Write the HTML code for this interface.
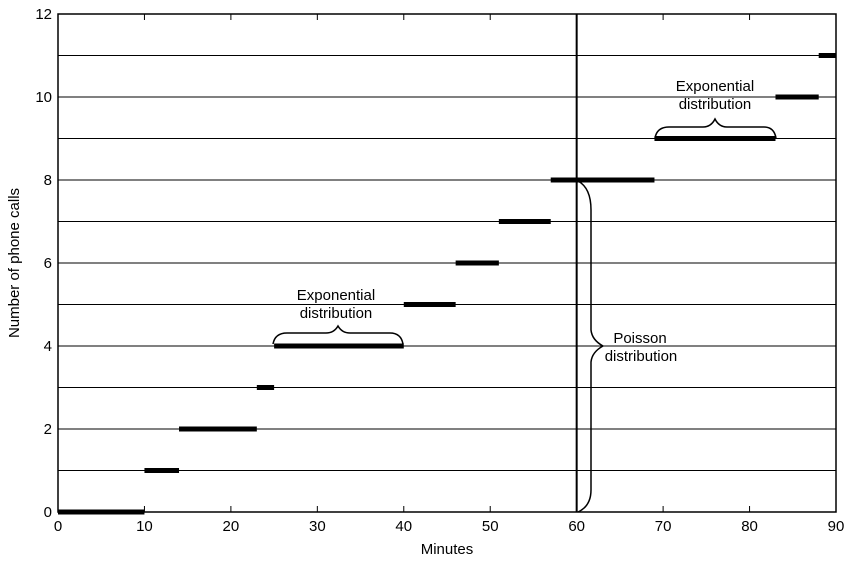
<!DOCTYPE html>
<html><head><meta charset="utf-8"><style>
body{margin:0;background:#fff;}
svg{display:block;font-family:"Liberation Sans",sans-serif;}
</style></head><body>
<svg id="chart" width="854" height="565" viewBox="0 0 854 565" xmlns="http://www.w3.org/2000/svg">
<g id="grid"></g>
<g id="marks"></g>
<g id="axes"></g>
<g fill="none" stroke="#000" stroke-width="1.5">
<path d="M273,344 Q275,333 287,333 L326,333 Q334,333 338,326 Q342,333 350,333 L390,333 Q401,333 403,344"/>
<path d="M655,138 Q657,127 669,127 L703,127 Q711,127 715,119 Q719,127 727,127 L764,127 Q774,127 776,138"/>
<path d="M578,181 Q591,188 591,210 L591,330 Q592,340 603,346 Q592,352 591,362 L591,490 Q591,506 578,512"/>
</g>
<g font-size="15" fill="#000" text-anchor="middle">
<text x="336" y="300">Exponential</text>
<text x="336" y="318">distribution</text>
<text x="715" y="91">Exponential</text>
<text x="715" y="109">distribution</text>
<text x="640" y="343">Poisson</text>
<text x="641" y="361">distribution</text>
<text x="447" y="554">Minutes</text>
<text x="0" y="0" transform="translate(19,263) rotate(-90)">Number of phone calls</text>
</g>
</svg>
<script>
const starts=[0,10,14,23,25,40,46,51,57,69,83,88];
const ends=[10,14,23,25,40,46,51,57,69,83,88,90];
const counts=[0,1,2,3,4,5,6,7,8,9,10,11];
const xTicks=[0,10,20,30,40,50,60,70,80,90];
const yTicks=[0,2,4,6,8,10,12];
const NS="http://www.w3.org/2000/svg";
const X0=58,X1=836,Y0=512,Y1=14;
function sx(v){return X0+(v-0)/90*(X1-X0);}
function sy(v){return Y0-(v-0)/12*(Y0-Y1);}
function mk(t,a,p){const e=document.createElementNS(NS,t);for(const k in a)e.setAttribute(k,a[k]);p.appendChild(e);return e;}
const grid=document.getElementById('grid'),marks=document.getElementById('marks'),axes=document.getElementById('axes');
for(let i=1;i<12;i++){const l=mk('line',{x1:X0,x2:X1,y1:sy(i),y2:sy(i),stroke:'#000','stroke-width':1},grid);

}
const vl=mk('line',{x1:sx(60),x2:sx(60),y1:Y1,y2:Y0,stroke:'#000','stroke-width':2},grid);


for(let i=0;i<counts.length;i++){const r=mk('rect',{x:sx(starts[i]),width:sx(ends[i])-sx(starts[i]),y:sy(counts[i])-2.5,height:5,fill:'#000'},marks);

}
const fr=mk('rect',{x:X0,y:Y1,width:X1-X0,height:Y0-Y1,fill:'none',stroke:'#000','stroke-width':1.5},axes);


xTicks.forEach(v=>{mk('line',{x1:sx(v),x2:sx(v),y1:Y0,y2:Y0-6,stroke:'#000'},axes);mk('line',{x1:sx(v),x2:sx(v),y1:Y1,y2:Y1+6,stroke:'#000'},axes);
const t=mk('text',{x:sx(v),y:Y0+19,'font-size':15,'text-anchor':'middle'},axes);t.textContent=v;

});
yTicks.forEach(v=>{mk('line',{x1:X0,x2:X0+6,y1:sy(v),y2:sy(v),stroke:'#000'},axes);mk('line',{x1:X1,x2:X1-6,y1:sy(v),y2:sy(v),stroke:'#000'},axes);
const t=mk('text',{x:X0-6,y:sy(v)+5,'font-size':15,'text-anchor':'end'},axes);t.textContent=v;

});
</script>
</body></html>
